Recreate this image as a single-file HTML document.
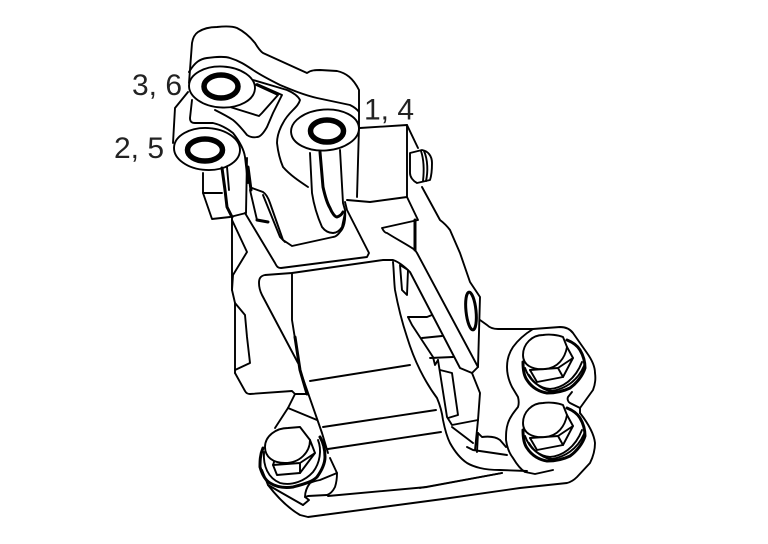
<!DOCTYPE html>
<html><head><meta charset="utf-8"><style>
html,body{margin:0;padding:0;background:#fff}
svg{display:block}
text{font-family:"Liberation Sans",sans-serif;font-size:30px;fill:#222}
path,ellipse{fill:none;stroke:#000;stroke-width:1.9;stroke-linejoin:round;stroke-linecap:round}
.w{fill:#fff}
.t{stroke-width:3}
.r{stroke-width:5.5}
</style></head><body>
<svg width="768" height="544" viewBox="0 0 768 544" xmlns="http://www.w3.org/2000/svg">
<!-- top bracket -->
<path d="M189 83L192 43C193 37 195 34 198 32C204 28 210 27 217 27C226 26 232 26 237 28C245 32 251 38 255 43C258 48 260 51 263 53L307 73C311 70 316 70 320 70L337 71C346 73 353 78 359 90L359 127"/>
<path d="M359 127L357 197"/>
<path d="M189 72C195 62 200 59 207 58C215 57 224 56 230 58C240 61 247 66 253 70C262 76 270 80 280 85C292 90 304 95 317 98L350 105C354 107 357 109 359 112"/>
<path d="M253 80L287 90C294 93 298 96 300 100C299 104 296 107 293 110C288 115 285 119 283 123C279 130 277 137 277 143C278 152 280 160 283 167C290 175 299 181 308 187"/>
<path d="M257 84L282 95L273 113L267 127C263 134 260 137 257 137C253 138 250 137 247 135C243 130 238 124 233 120C227 116 221 113 215 110"/>
<path d="M254 84L278 95L262 113L259 116L230 107"/>
<path d="M188 92L175 108L173 143"/>
<path d="M192 100L190 118C190 122 192 123 195 123L213 123C222 125 228 129 233 133C240 142 244 150 245 157L248 183"/>
<!-- bosses -->
<ellipse class="w" cx="222" cy="87" rx="33" ry="20.5" transform="rotate(3 222 87)"/>
<ellipse class="w" cx="207" cy="149" rx="33" ry="21" transform="rotate(3 207 149)"/>
<ellipse class="w" cx="325" cy="130" rx="34" ry="20.5" transform="rotate(-4 325 130)"/>
<ellipse class="r" cx="221" cy="86.5" rx="17" ry="11.5"/>
<ellipse class="r" cx="205" cy="150" rx="17.5" ry="11"/>
<ellipse class="r" cx="327" cy="131" rx="16.5" ry="11"/>
<!-- lug -->
<path d="M310 153L312 193C314 206 318 218 322 227C325 231 329 233 333 233C337 233 340 230 342 227L345 213"/>
<path class="t" d="M320 152L323 187C325 196 327 203 330 208C332 213 335 217 337 217C340 216 342 214 343 212"/>
<path d="M340 150L343 203L345 210C346 220 344 228 340 232C337 236 335 237 333 237L292 246L283 240L270 203C268 197 266 194 263 192L252 188"/>
<path d="M263 195L280 237L285 242"/>
<path d="M250 190L257 220L267 222"/>
<path class="t" d="M257 220L268 222"/>
<!-- left nut -->
<path d="M203 173L203 193L212 219L230 217L246 213"/>
<path d="M203 193L222 193"/>
<path class="t" d="M222 168L225 190L227 207L232 217"/>
<path d="M227 167L229 190"/>
<path d="M247 158L246 213"/>
<path class="t" d="M248 167L251 190"/>
<path d="M232 217L232 290"/>
<path d="M232 220L247 252L233 275L232 290L235 303L235 373"/>
<path d="M235 303L245 315L247 337L250 363L235 370"/>
<path d="M235 373L245 391C246 393 248 394 250 394L292 391L295 394L307 394"/>
<!-- mid plate -->
<path d="M245 213L275 263C277 267 278 268 281 268L367 257L369 253L347 210L345 202"/>
<!-- right block -->
<path d="M360 128L407 125L418 148"/>
<path d="M407 125L407 197"/>
<path d="M347 200L370 202L407 197L418 220L382 228C384 232 386 233 387 233C398 240 408 245 415 250L417 253L478 367"/>
<path class="t" d="M415 220L415 250"/>
<path class="w" d="M410 153L422 150C428 151 432 156 432 163C432 172 431 177 430 180L417 183C413 181 410 177 410 173Z"/>
<path d="M421 151C424 160 424 172 423 181M424 151C428 160 428 172 426 181"/>
<path d="M422 187L440 220C444 223 447 226 450 230L460 253L470 282L480 297L478 367L472 373L460 368L410 272C404 266 399 262 393 260L383 260L292 273L265 275C260 276 259 279 259 283C259 288 260 291 262 295L298 363"/>
<ellipse class="t" cx="471" cy="311" rx="5" ry="19" transform="rotate(-6 471 311)"/>
<!-- central body -->
<path d="M292 273L292 320L300 370L322 433L328 453"/>
<path class="t" d="M295 337L300 370L307 394"/>
<path d="M393 262C394 272 394 282 395 290C398 306 402 322 407 337C411 350 415 360 420 370C425 380 431 390 437 398C440 405 442 412 443 420C445 430 447 437 450 443C455 452 461 459 467 463C472 466 476 467 480 468C488 470 494 470 500 470L527 471"/>
<path d="M400 265L402 290L407 295L408 270L400 265"/>
<path d="M408 317L412 325L433 357L435 365L438 360"/>
<path d="M408 317L427 317L432 315"/>
<path d="M422 338L442 336"/>
<path d="M430 358L453 357"/>
<path d="M438 360L447 417L452 425L478 420"/>
<path d="M440 370L452 373L458 415L448 418"/>
<path d="M472 373L480 393L478 420L475 450"/>
<path d="M452 427L473 443"/>
<path d="M467 447L473 450L507 455"/>
<path d="M478 433L482 437C490 436 496 437 500 440L506 447"/>
<path d="M478 433L477 452"/>
<!-- ribs -->
<path d="M310 381L410 365"/>
<path d="M323 427L436 410"/>
<path d="M328 449L441 432"/>
<!-- left base -->
<path d="M295 394L288 408L275 428"/>
<path d="M288 408L317 420"/>
<path d="M330 458L337 473C337 480 336 484 335 487C333 491 330 494 327 495L308 496L305 497L309 500L303 505"/>
<path d="M337 473L320 480C315 481 312 482 310 483C307 487 305 492 305 497"/>
<path d="M268 485C278 498 288 508 300 515L308 517L443 499L520 488L567 483C571 482 574 480 577 477L590 463C593 457 595 450 595 443C594 433 587 422 580 413"/>
<path d="M328 496L427 487L502 473"/>
<path d="M262 470L268 485L303 505"/>
<!-- left bolt -->
<path class="t" d="M263 448C260 455 260 461 260 467C262 474 265 480 270 483C278 488 286 488 293 487C304 484 312 482 317 477C322 470 325 463 325 457C325 449 323 442 320 437"/>
<path d="M264 452C263 466 268 478 280 483C292 486 305 481 313 472C320 463 322 450 318 440"/>
<path class="w" d="M273 465L277 475L300 473L315 453L310 440L280 445Z"/>
<path d="M273 465L300 463L315 453M300 463L300 473"/>
<path class="w" d="M265 447C265 436 276 428 288 428L300 427L310 440C310 452 300 463 285 463C273 463 265 457 265 447Z"/>
<!-- right plate -->
<path d="M480 320L487 325C490 328 494 329 498 329L533 329L560 327C566 327 570 329 573 333L587 353C592 360 595 366 595 373C596 380 595 385 593 390L580 408L580 413"/>
<path d="M533 329C525 334 518 340 513 347C509 353 507 360 507 367C507 375 509 381 512 387L518 397C519 401 519 404 518 407C514 412 510 417 508 423C506 429 506 434 506 440C507 447 509 453 513 458C516 463 520 469 525 472L535 474L553 470"/>
<path d="M580 408L570 403C568 402 567 399 568 397L572 392"/>
<path d="M420 488L502 473"/>
<!-- upper right bolt -->
<path class="t" d="M523 362C523 370 524 376 527 380C532 388 540 392 547 393C556 393 564 391 570 388C577 383 583 375 585 368C585 361 583 355 580 350C577 345 572 342 567 340"/>
<path d="M525 368C530 382 540 388 550 389C562 388 575 380 582 362"/>
<path d="M529 375C535 385 545 391 552 391C564 389 577 382 584 366"/>
<path d="M530 370L537 382L563 377L573 358L567 347"/>
<path d="M530 370L558 368L573 358"/>
<path d="M558 368L563 377"/>
<path class="w" d="M523 355C523 344 532 335 543 335C550 334 558 335 563 337L567 347C565 358 558 368 545 369C532 370 523 365 523 355Z"/>
<!-- lower right bolt -->
<path class="t" d="M523 430C523 438 524 444 527 448C532 456 540 460 547 461C556 461 564 459 570 456C577 451 583 443 585 436C585 429 583 423 580 418C577 413 572 410 567 408"/>
<path d="M525 436C530 450 540 456 550 457C562 456 575 448 582 430"/>
<path d="M529 443C535 453 545 459 552 459C564 457 577 450 584 434"/>
<path d="M530 438L537 450L563 445L573 426L567 415"/>
<path d="M530 438L558 436L573 426"/>
<path d="M558 436L563 445"/>
<path class="w" d="M523 423C523 412 532 403 543 403C550 402 558 403 563 405L567 415C565 426 558 436 545 437C532 438 523 433 523 423Z"/>
<text x="132" y="95">3, 6</text>
<text x="114" y="158">2, 5</text>
<text x="364" y="119.5">1, 4</text>
</svg>
</body></html>
